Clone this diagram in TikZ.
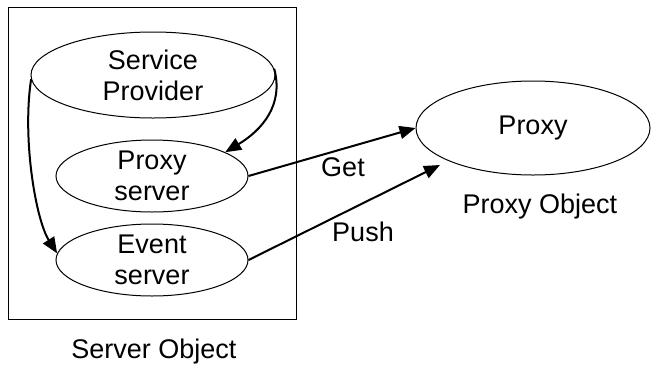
\documentclass[tikz,border=0pt]{standalone}
\usepackage{fontspec}
\setmainfont{Liberation Sans}
\usetikzlibrary{arrows.meta,shapes.geometric}
\begin{document}
\begin{tikzpicture}[x=1pt,y=-1pt,
  every node/.style={font=\fontsize{27}{31}\selectfont},
  oval/.style={draw,ellipse,line width=1pt,inner sep=0pt,align=center},
  link/.style={line width=2pt,-{Triangle[length=16pt,width=13pt]}},
  lbl/.style={inner sep=0pt}]
  \useasboundingbox (0,0) rectangle (651,373);
  % server object frame
  \node[draw,line width=1pt,minimum width=288pt,minimum height=312pt,inner sep=0pt] (frame) at (152,163) {};
  % nodes
  \node[oval,minimum width=244pt,minimum height=86pt] (sp) at (153,75) {Service\\Provider};
  \node[oval,minimum width=192pt,minimum height=72pt] (ps) at (152,176) {Proxy\\server};
  \node[oval,minimum width=192pt,minimum height=72pt] (ev) at (152,260) {Event\\server};
  \node[oval,minimum width=234pt,minimum height=94pt] (px) at (533,128) {Proxy};
  \coordinate (pushend) at (440,165);
  % connectors
  \draw[link] (sp.3) .. controls (284,105) and (262,130) .. (ps.18);
  \draw[link] (sp.182) .. controls (22,140) and (36,220) .. (ev.176);
  \draw[link] (ps.east) -- (px.west);
  \draw[link] (ev.east) -- (pushend);
  % labels
  \node[lbl] (get) at (343,167) {Get};
  \node[lbl] (push) at (363,232) {Push};
  \node[lbl] (pxo) at (540,207) {Proxy Object};
  \node[lbl] (svo) at (154,352) {Server Object};
\end{tikzpicture}
\end{document}
